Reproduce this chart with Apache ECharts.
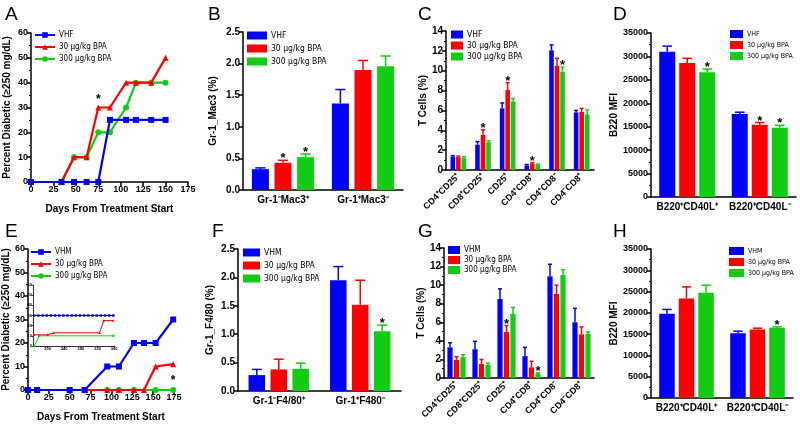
<!DOCTYPE html>
<html><head><meta charset="utf-8">
<script src="https://cdn.jsdelivr.net/npm/echarts@6/dist/echarts.min.js"></script>
<style>html,body{margin:0;padding:0;background:#fff}#c{width:800px;height:425px}</style>
</head><body><div id="c"></div>
<script>
// ---------- DATA ----------
const groupsTop = ['VHF', '30 µg/kg BPA', '300 µg/kg BPA'];
const groupsBot = ['VHM', '30 µg/kg BPA', '300 µg/kg BPA'];

// Panel A (days, percent)
const aBlue = [[0,0],[34,0],[48,0],[62,0],[75,0],[88,25],[106,25],[117,25],[134,25],[150,25]];
const aRed = [[34,0],[48,10],[62,10],[75,30],[88,30],[106,40],[117,40],[134,40],[150,50]];
const aGreen = [[34,0],[48,10],[62,10],[75,20],[88,20],[106,30],[117,40],[134,40],[150,40]];
const aStars = [[75,30]];

// Panel E
const eBlue = [[0,0],[11,0],[50,0],[68,0],[95,10],[109,10],[127,20],[139,20],[153,20],[174,30]];
const eRed = [[68,0],[95,0],[109,0],[127,0],[139,0],[153,10],[174,11]];
const eGreen = [[0,0],[11,0],[50,0],[68,0],[95,0],[109,0],[127,0],[153,0],[174,0]];
const eStars = [[174,0]];
// Inset of E
const insBlue = [[168,30],[178,30],[188,30],[198,30],[208,30],[218,30],[228,30],[238,30],[248,30],[258,30],[268,30],[278,30],[288,30],[298,30],[308,30],[318,30],[328,30],[338,30],[348,30],[358,30]];
const insRed = [[168,11],[200,11],[215,13],[325,13],[335,25],[358,25]];
const insGreen = [[168,0],[180,10],[358,10]];
const insXTicks = [200,240,280,320,360];

// Panel B
const bCats = ['Gr-1⁻Mac3⁺', 'Gr-1⁺Mac3⁻'];
const bVals = [[0.33,1.37],[0.43,1.90],[0.52,1.96]];
const bErr  = [[0.35,1.59],[0.47,2.05],[0.57,2.12]];
const bStar = [[0,0],[1,0],[1,0]];

// Panel C
const cCats = ['CD4⁺CD25⁺','CD8⁺CD25⁺','CD25⁺','CD4⁺CD8⁺','CD4⁺CD8⁻','CD4⁻CD8⁺'];
const cVals = [[1.35,2.55,6.2,0.45,12.05,5.8],[1.3,3.55,8.05,0.65,10.5,5.85],[1.25,2.8,6.9,0.55,9.9,5.6]];
const cErr  = [[1.45,2.85,6.75,0.55,12.6,6.0],[1.4,4.05,8.8,0.75,11.25,6.2],[1.35,2.95,7.2,0.6,10.35,6.05]];
const cStar = [[0,0,0,0,0,0],[0,1,1,1,0,0],[0,0,0,0,1,0]];

// Panel D
const dCats = ['B220⁺CD40L⁺', 'B220⁺CD40L⁻'];
const dVals = [[31000,17700],[28600,15400],[26600,14800]];
const dErr  = [[32200,18100],[29600,15900],[27300,15300]];
const dStar = [[0,0],[0,1],[1,1]];

// Panel F
const fCats = ['Gr-1⁻F4/80⁺', 'Gr-1⁺F480⁻'];
const fVals = [[0.28,1.95],[0.38,1.52],[0.39,1.05]];
const fErr  = [[0.38,2.19],[0.56,1.95],[0.49,1.16]];
const fStar = [[0,0],[0,0],[0,1]];

// Panel G
const gCats = cCats;
const gVals = [[3.3,3.1,8.5,2.35,10.95,6.0],[1.95,1.5,4.95,1.15,9.05,4.7],[2.25,1.4,6.9,0.5,11.1,4.75]];
const gErr  = [[3.8,3.95,9.6,3.3,12.25,7.5],[2.3,2.0,5.65,1.8,10.0,5.5],[2.5,1.6,7.6,0.55,11.65,4.95]];
const gStar = [[0,0,0,0,0,0],[0,0,1,0,0,0],[0,0,0,1,0,0]];

// Panel H
const hCats = dCats;
const hVals = [[19800,15200],[23400,16100],[24700,16500]];
const hErr  = [[20800,15700],[26100,16400],[26500,16700]];
const hStar = [[0,0],[0,0],[0,1]];

// ---------- STYLE ----------
const COLORS = ['#0000ff', '#ff0000', '#11cc11'];
const FONT = '"Liberation Sans", Arial, sans-serif';
const NARROW = '"DejaVu Sans Condensed", "Liberation Sans", Arial, sans-serif';
const grid = [], xAxis = [], yAxis = [], series = [], legend = [];

function axisBase(){
  return {
    axisLine:{show:true, lineStyle:{color:'#000', width:1.5}},
    axisTick:{show:true, length:4, lineStyle:{color:'#000', width:1.5}},
    axisLabel:{color:'#000', fontFamily:FONT, fontWeight:'bold', fontSize:9, margin:3},
    splitLine:{show:false},
    nameTextStyle:{color:'#000', fontFamily:FONT, fontWeight:'bold', fontSize:10}
  };
}

function addLegend(names, key, pos, icon, iw, ih, fs, gapv){
  legend.push(Object.assign({
    orient:'vertical', data:names.map(n => n + '|' + key), icon: icon,
    itemWidth: iw, itemHeight: ih, itemGap: gapv === undefined ? 3 : gapv, padding: 0, selectedMode:false,
    formatter: n => n.split('|')[0],
    textStyle:{fontFamily:NARROW, fontSize:fs || 9, color:'#000', padding:[0,0,0,-1]}
  }, pos));
}

function barPanel(key, g, cats, vals, errs, stars, names, o){
  const gi = grid.length;
  grid.push(g);
  xAxis.push(Object.assign(axisBase(), {type:'category', gridIndex:gi, data:cats,
    axisTick:{show:false},
    axisLabel:Object.assign(axisBase().axisLabel, {fontSize:o.catFont||10, margin:5, rotate:o.rotate||0, interval:0})}));
  const ya = Object.assign(axisBase(), {type:'value', gridIndex:gi, min:0, max:o.max, interval:o.interval,
    name:o.yname, nameLocation:'middle', nameGap:o.nameGap});
  ya.axisLabel = Object.assign(axisBase().axisLabel, {fontSize:o.yFont||9, formatter:o.fmt});
  if (o.minor) ya.minorTick = {show:true, splitNumber:2, length:2, lineStyle:{color:'#000', width:1.2}};
  yAxis.push(ya);
  const w = o.bw, gap = o.gap;
  for (let s = 0; s < 3; s++){
    series.push({type:'bar', name:names[s] + '|' + key, xAxisIndex:gi, yAxisIndex:gi,
      data:vals[s], barWidth:w, barGap:(gap*100)+'%', itemStyle:{color:COLORS[s]}, animation:false});
    const data = errs[s].map((e, i) => [i, vals[s][i], e, stars[s][i]]);
    series.push({type:'custom', xAxisIndex:gi, yAxisIndex:gi, data, animation:false, z:3,
      renderItem: (function(si){ return function(params, api){
        const top = api.coord([api.value(0), api.value(2)]);
        const base = api.coord([api.value(0), api.value(1)]);
        const x = top[0] + (si - 1) * w * (1 + gap);
        const cap = Math.max(2, w * 0.3);
        const ch = [
          {type:'line', shape:{x1:x, y1:base[1], x2:x, y2:top[1]}, style:{stroke:COLORS[si], lineWidth:1.5}},
          {type:'line', shape:{x1:x - cap, y1:top[1], x2:x + cap, y2:top[1]}, style:{stroke:COLORS[si], lineWidth:1.5}}
        ];
        if (api.value(3)) ch.push({type:'text', x:x, y:top[1] + 5, style:{text:'*', fill:'#000',
          font:'bold 13px ' + FONT, textAlign:'center', textVerticalAlign:'bottom'}});
        return {type:'group', children:ch};
      }; })(s)
    });
  }
  addLegend(names, key, o.legendPos, 'rect', o.iw, o.ih, o.lf, o.lg);
}

function linePanel(key, g, xa, ya, sets, names, stars, small){
  const gi = grid.length;
  grid.push(g);
  xAxis.push(Object.assign(axisBase(), xa, {type:'value', gridIndex:gi}));
  yAxis.push(Object.assign(axisBase(), ya, {type:'value', gridIndex:gi}));
  const syms = ['rect', 'triangle', 'circle'];
  const zs = [5, 4, 3];
  sets.forEach((d, s) => {
    series.push({type:'line', name: names ? names[s] + '|' + key : undefined, xAxisIndex:gi, yAxisIndex:gi, data:d,
      symbol:syms[s], symbolSize: small ? 2.5 : 6, showSymbol:true, clip:false, z:zs[s],
      lineStyle:{color:COLORS[s], width: small ? 1 : 2.2}, itemStyle:{color:COLORS[s]}, animation:false});
  });
  if (stars) series.push({type:'custom', xAxisIndex:gi, yAxisIndex:gi, data:stars, z:6, animation:false,
    renderItem:(p, api) => { const c = api.coord([api.value(0), api.value(1)]);
      return {type:'text', x:c[0], y:c[1] + 1, style:{text:'*', fill:'#000', font:'bold 12px ' + FONT,
        textAlign:'center', textVerticalAlign:'bottom'}}; }});
  return gi;
}

const minorT = {show:true, splitNumber:2, length:2, lineStyle:{color:'#000', width:1.2}};

// Panel A
linePanel('A', {left:31, top:33, width:157, height:149},
  {min:0, max:175, interval:25, name:'Days From Treatment Start', nameLocation:'middle', nameGap:22},
  {min:0, max:60, interval:10, name:'Percent Diabetic (≥250 mg/dL)', nameLocation:'middle', nameGap:19, minorTick:minorT},
  [aBlue, aRed, aGreen], groupsTop, aStars.map(p => [p[0], p[1] + 1]));
addLegend(groupsTop, 'A', {left:34, top:31}, undefined, 20, 7, 8, 4);

// Panel E
linePanel('E', {left:27, top:249, width:147, height:141},
  {min:0, max:175, interval:25, name:'Days From Treatment Start', nameLocation:'middle', nameGap:22},
  {min:0, max:60, interval:10, name:'Percent Diabetic (≥250 mg/dL)', nameLocation:'middle', nameGap:16, minorTick:minorT},
  [eBlue, eRed, eGreen], groupsBot, eStars.map(p => [p[0], p[1] + 2]));
addLegend(groupsBot, 'E', {left:30, top:248}, undefined, 20, 7, 8, 4);

// Inset
linePanel('I', {left:33, top:285, width:82, height:61},
  {min:165, max:362, axisLabel:{color:'#000', fontSize:4, fontWeight:'bold', margin:1, customValues:insXTicks},
   axisTick:{show:true, length:1.5, lineStyle:{color:'#000', width:0.8}, customValues:insXTicks},
   axisLine:{show:true, lineStyle:{color:'#000', width:0.8}}},
  {min:0, max:60, interval:10, axisLabel:{color:'#000', fontSize:4, fontWeight:'bold', margin:1},
   axisTick:{show:true, length:1.5, lineStyle:{color:'#000', width:0.8}},
   axisLine:{show:true, lineStyle:{color:'#000', width:0.8}}},
  [insBlue, insRed, insGreen], null, null, true);

const f1 = v => v.toFixed(1);
const f0 = v => String(v);

// Bar panels
barPanel('B', {left:243, top:32, width:160, height:158}, bCats, bVals, bErr, bStar, groupsTop,
  {max:2.5, interval:0.5, yname:'Gr-1_Mac3 (%)', nameGap:25, bw:17, gap:0.33, iw:20, ih:8, fmt:f1, yFont:10, lf:8.5, lg:4,
   legendPos:{left:247, top:31}});
barPanel('C', {left:446, top:31, width:148, height:139}, cCats, cVals, cErr, cStar, groupsTop,
  {max:14, interval:2, yname:'T Cells (%)', nameGap:17, bw:4.6, gap:0.2, iw:12, ih:8, minor:true, fmt:f0, yFont:10, lf:8.5, lg:2,
   rotate:45, catFont:9, legendPos:{left:451, top:30}});
barPanel('D', {left:651, top:33, width:145, height:164}, dCats, dVals, dErr, dStar, groupsTop,
  {max:35000, interval:5000, yname:'B220 MFI', nameGap:30, bw:16, gap:0.25, iw:13, ih:8, minor:true, fmt:f0, yFont:9, lf:7, lg:3,
   legendPos:{left:730, top:30}});
barPanel('F', {left:238, top:249, width:163, height:142}, fCats, fVals, fErr, fStar, groupsBot,
  {max:2.5, interval:0.5, yname:'Gr-1_F4/80 (%)', nameGap:23, bw:16.5, gap:0.33, iw:17, ih:8, fmt:f1, yFont:10, lf:8.5, lg:4,
   legendPos:{left:243, top:248}});
barPanel('G', {left:444, top:248, width:150, height:130}, gCats, gVals, gErr, gStar, groupsBot,
  {max:14, interval:2, yname:'T Cells (%)', nameGap:18, bw:5.2, gap:0.25, iw:12, ih:8, minor:true, fmt:f0, yFont:10, lf:8, lg:2,
   rotate:45, catFont:9, legendPos:{left:448, top:246}});
barPanel('H', {left:651, top:249, width:142, height:149}, hCats, hVals, hErr, hStar, groupsBot,
  {max:35000, interval:5000, yname:'B220 MFI', nameGap:31, bw:15.5, gap:0.26, iw:15, ih:8, minor:true, fmt:f0, yFont:9, lf:7, lg:3,
   legendPos:{left:729, top:247}});

// Panel letters
const letters = [['A',5,5],['B',208,5],['C',418,5],['D',613,5],['E',5,222],['F',212,222],['G',418,222],['H',613,222]];
const graphic = letters.map(l => ({type:'text', left:l[1], top:l[2],
  style:{text:l[0], font:'19px ' + FONT, fill:'#000'}}));

const chart = echarts.init(document.getElementById('c'), null, {renderer:'canvas'});
chart.setOption({animation:false, backgroundColor:'#fff', grid, xAxis, yAxis, series, legend, graphic});
</script></body></html>
